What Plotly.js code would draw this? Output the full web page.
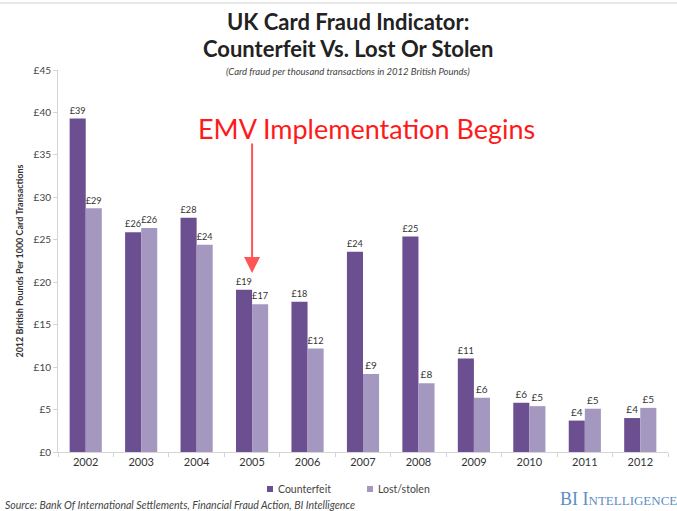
<!DOCTYPE html>
<html>
<head>
<meta charset="utf-8">
<script src="https://cdn.plot.ly/plotly-3.0.1.min.js"></script>
<style>html,body{margin:0;padding:0;background:#fff;}#chart{width:677px;height:511px;}</style>
</head>
<body>
<div id="chart"></div>
<script>
const years = ["2002","2003","2004","2005","2006","2007","2008","2009","2010","2011","2012"];
const counterfeit = [39.3, 25.9, 27.6, 19.1, 17.7, 23.6, 25.4, 11.0, 5.8, 3.7, 4.0];
const lostStolen = [28.7, 26.4, 24.4, 17.4, 12.2, 9.2, 8.1, 6.4, 5.4, 5.1, 5.2];
const yTickVals = [0,5,10,15,20,25,30,35,40,45];
const yTickText = ["£0","£5","£10","£15","£20","£25","£30","£35","£40","£45"];
const seriesNames = ["Counterfeit", "Lost/stolen"];
const seriesColors = ["#6b4f90", "#a598c0"];
const emvYearIndex = years.indexOf("2005");
const FONT = "Lato, 'Open Sans', sans-serif";

const traces = [
  {type:"bar", name:seriesNames[0], x:years, y:counterfeit,
   marker:{color:seriesColors[0]},
   texttemplate:"£%{y:.0f}", textposition:"outside", cliponaxis:false,
   textfont:{family:FONT, size:10, color:"#333"}},
  {type:"bar", name:seriesNames[1], x:years, y:lostStolen,
   marker:{color:seriesColors[1]},
   texttemplate:"£%{y:.0f}", textposition:"outside", cliponaxis:false,
   textfont:{family:FONT, size:10, color:"#333"}}
];

// pixel -> paper helpers for decorations (plot area: x 58..668, y 70..452)
const px = p => (p - 58) / 610;
const py = p => (452 - p) / 382;

const legendShapes = [
  {type:"rect", xref:"paper", yref:"paper", x0:px(267), x1:px(273), y0:py(492), y1:py(486),
   fillcolor:seriesColors[0], line:{width:0}},
  {type:"rect", xref:"paper", yref:"paper", x0:px(367), x1:px(373), y0:py(492), y1:py(486),
   fillcolor:seriesColors[1], line:{width:0}},
  {type:"line", xref:"paper", yref:"paper", x0:-0.1, x1:1.02, y0:py(3), y1:py(3),
   line:{color:"#d0d0d0", width:1}}
];

const layout = {
  width:677, height:511,
  margin:{l:58, r:9, t:70, b:59},
  paper_bgcolor:"#fff", plot_bgcolor:"#fff",
  font:{family:FONT, color:"#333"},
  barmode:"group", bargap:0.42, bargroupgap:0,
  showlegend:false,
  xaxis:{type:"category", showgrid:false, showline:true, linecolor:"#d4d4d4",
         ticks:"outside", tickson:"boundaries", ticklen:4, tickcolor:"#d4d4d4",
         tickfont:{family:FONT, size:11, color:"#333"}},
  yaxis:{range:[0,45], tickvals:yTickVals, ticktext:yTickText, showgrid:false,
         showline:true, linecolor:"#d4d4d4", ticks:"outside", ticklen:4, tickcolor:"#d4d4d4",
         tickfont:{family:FONT, size:10, color:"#444"}, zeroline:false,
         title:{text:"<b>2012 British Pounds Per 1000 Card Transactions</b>", standoff:8,
                font:{family:FONT, size:9, color:"#333"}}},
  shapes: legendShapes,
  annotations:[
    {xref:"paper", yref:"paper", x:px(348), y:py(21), xanchor:"center", yanchor:"middle",
     text:"<b>UK Card Fraud Indicator:</b>", showarrow:false,
     font:{family:FONT, size:22, color:"#222"}},
    {xref:"paper", yref:"paper", x:px(348), y:py(48), xanchor:"center", yanchor:"middle",
     text:"<b>Counterfeit Vs. Lost Or Stolen</b>", showarrow:false,
     font:{family:FONT, size:22, color:"#222"}},
    {xref:"paper", yref:"paper", x:px(348), y:py(72), xanchor:"center", yanchor:"middle",
     text:"<i>(Card fraud per thousand transactions in 2012 British Pounds)</i>", showarrow:false,
     font:{family:FONT, size:9.5, color:"#444"}},
    {xref:"x", yref:"y", x:emvYearIndex, y:21.1, ax:0, ay:-131,
     text:"", showarrow:true, arrowhead:2, arrowsize:1.6, arrowwidth:2, arrowcolor:"#ff5555"},
    {xref:"paper", yref:"paper", x:px(366), y:py(128), xanchor:"center", yanchor:"middle",
     text:"EMV Implementation Begins", showarrow:false,
     font:{family:FONT, size:27, color:"#ff1a1a"}},
    {xref:"paper", yref:"paper", x:px(276), y:py(489), xanchor:"left", yanchor:"middle",
     text:seriesNames[0], showarrow:false, font:{family:FONT, size:10.5, color:"#444"}},
    {xref:"paper", yref:"paper", x:px(376), y:py(489), xanchor:"left", yanchor:"middle",
     text:seriesNames[1], showarrow:false, font:{family:FONT, size:10.5, color:"#444"}},
    {xref:"paper", yref:"paper", x:px(3), y:py(505), xanchor:"left", yanchor:"middle",
     text:"<i>Source: Bank Of International Settlements, Financial Fraud Action, BI Intelligence</i>", showarrow:false,
     font:{family:FONT, size:10.5, color:"#444"}},
    {xref:"paper", yref:"paper", x:px(679), y:py(499), xanchor:"right", yanchor:"middle",
     text:"BI Intelligence", showarrow:false,
     font:{family:"'Liberation Serif', serif", size:18, color:"#5d8dc4", variant:"small-caps"}}
  ]
};

Plotly.newPlot("chart", traces, layout, {displayModeBar:false, staticPlot:true});
</script>
</body>
</html>
